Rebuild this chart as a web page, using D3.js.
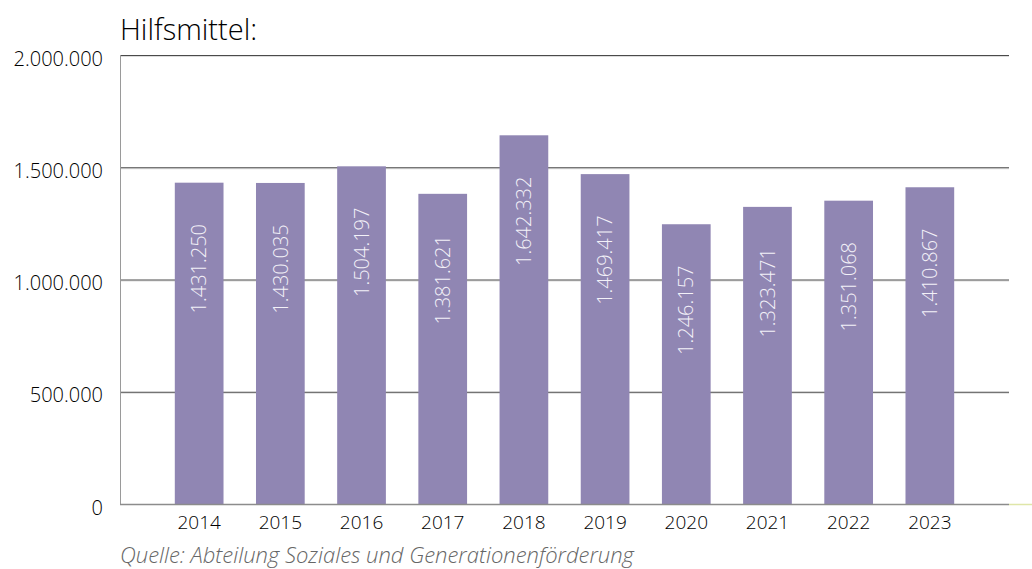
<!DOCTYPE html>
<html>
<head>
<meta charset="utf-8">
<title>Hilfsmittel</title>
<script src="https://cdn.jsdelivr.net/npm/d3@7"></script>
<style>
	body { margin: 0; background: #fff; }
	text { font-family: "Open Sans", sans-serif; }
</style>
</head>
<body>
<div id="chart-area"></div>
<script>
// data
var years = ["2014", "2015", "2016", "2017", "2018", "2019", "2020", "2021", "2022", "2023"];
var values = [1431250, 1430035, 1504197, 1381621, 1642332, 1469417, 1246157, 1323471, 1351068, 1410867];
var yTicks = [0, 500000, 1000000, 1500000, 2000000];

var title = "Hilfsmittel:";
var source = "Quelle: Abteilung Soziales und Generationenförderung";

var margin = {
	left: 120,
	right: 23,
	bottom: 65,
	top: 55
};

var width = 1032 - margin.left - margin.right;
var height = 569 - margin.top - margin.bottom;

var fmt = d3.formatLocale({ decimal: ",", thousands: ".", grouping: [3], currency: ["", ""] }).format(",d");

var svg = d3.select("#chart-area")
	.append("svg")
	.attr("width", 1032)
	.attr("height", 569);

var g = svg.append("g")
	.attr("transform", "translate(" + margin.left + ", " + margin.top + ")");

// scales
var x = d3.scaleBand()
	.domain(years)
	.range([0, width])
	.paddingInner(0.4)
	.paddingOuter(0.675);

var y = d3.scaleLinear()
	.domain([0, 2000000])
	.range([height, 0]);

// gridlines
g.selectAll(".grid-shadow")
	.data(yTicks.slice(1))
	.enter()
	.append("line")
	.attr("class", "grid-shadow")
	.attr("x1", 0)
	.attr("x2", width)
	.attr("y1", d => y(d) + 1.5)
	.attr("y2", d => y(d) + 1.5)
	.attr("stroke", "#dcdcdc")
	.attr("stroke-width", 1);

g.selectAll(".grid")
	.data(yTicks.slice(1))
	.enter()
	.append("line")
	.attr("class", "grid")
	.attr("x1", 0)
	.attr("x2", width)
	.attr("y1", d => y(d) + 0.5)
	.attr("y2", d => y(d) + 0.5)
	.attr("stroke", "#4a4a4a")
	.attr("stroke-width", 1);

// y axis
var yAxisCall = d3.axisLeft(y)
	.tickValues(yTicks)
	.tickSize(0)
	.tickPadding(17)
	.tickFormat(d => fmt(d));

var yAxisGroup = g.append("g")
	.attr("class", "y-axis")
	.call(yAxisCall);

yAxisGroup.select(".domain").remove();
yAxisGroup.selectAll("text")
	.attr("font-size", "20px")
	.attr("font-weight", 300)
	.attr("fill", "#000")
	.attr("dy", "0.5em");

g.append("line")
	.attr("x1", 0.5)
	.attr("x2", 0.5)
	.attr("y1", 0)
	.attr("y2", height)
	.attr("stroke", "#9a9a9a");

// bars
g.selectAll("rect.bar")
	.data(values)
	.enter()
	.append("rect")
	.attr("class", "bar")
	.attr("x", (d, i) => x(years[i]))
	.attr("y", d => y(d))
	.attr("width", x.bandwidth())
	.attr("height", d => height - y(d))
	.attr("fill", "#9086b3");

// bar labels
g.selectAll("text.val")
	.data(values)
	.enter()
	.append("text")
	.attr("class", "val")
	.attr("transform", (d, i) => "translate(" + (x(years[i]) + x.bandwidth() / 2) + "," + (y(d) + 86) + ") rotate(-90)")
	.attr("text-anchor", "middle")
	.attr("dy", "0.36em")
	.attr("font-size", "20px")
	.attr("font-weight", 300)
	.attr("fill", "#f3f1f8")
	.text(d => fmt(d));

// x axis
g.append("line")
	.attr("x1", 0)
	.attr("x2", width)
	.attr("y1", height + 0.5)
	.attr("y2", height + 0.5)
	.attr("stroke", "#8c8c8c")
	.attr("stroke-width", 1.5);

g.append("line")
	.attr("x1", width)
	.attr("x2", width + margin.right)
	.attr("y1", height + 0.5)
	.attr("y2", height + 0.5)
	.attr("stroke", "#dfe6a8")
	.attr("stroke-width", 1.5);

var xAxisCall = d3.axisBottom(x)
	.tickSize(0)
	.tickPadding(12);

var xAxisGroup = g.append("g")
	.attr("class", "x axis")
	.attr("transform", `translate(0, ${height})`)
	.call(xAxisCall);

xAxisGroup.select(".domain").remove();
xAxisGroup.selectAll("text")
	.attr("font-size", "19px")
	.attr("font-weight", 300)
	.attr("fill", "#000");

// title + source
svg.append("text")
	.attr("x", margin.left)
	.attr("y", 40)
	.attr("font-size", "29px")
	.attr("font-weight", 300)
	.attr("fill", "#000")
	.text(title);

svg.append("text")
	.attr("x", margin.left)
	.attr("y", 563)
	.attr("font-size", "22px")
	.attr("font-weight", 300)
	.attr("font-style", "italic")
	.attr("fill", "#666")
	.text(source);
</script>
</body>
</html>
